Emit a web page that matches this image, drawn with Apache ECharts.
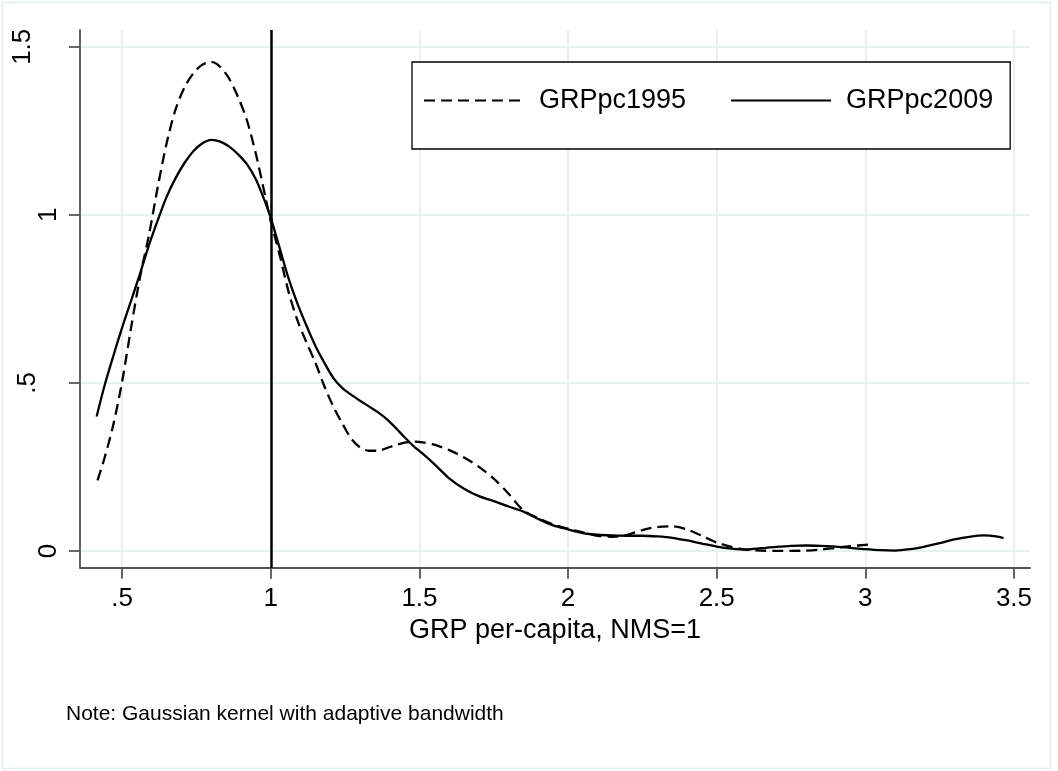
<!DOCTYPE html>
<html>
<head>
<meta charset="utf-8">
<script src="https://cdn.jsdelivr.net/npm/echarts@6/dist/echarts.min.js"></script>
<style>
  html, body { margin: 0; padding: 0; background: #fff; }
  #chart { width: 1058px; height: 771px; }
</style>
</head>
<body>
<div id="chart"></div>
<script>
// ---- data ----
const x1995 = [0.417,0.44,0.47,0.50,0.53,0.56,0.59,0.62,0.65,0.68,0.71,0.74,0.77,0.80,0.83,0.86,0.89,0.92,0.95,0.98,1.00,1.03,1.06,1.09,1.12,1.15,1.18,1.21,1.24,1.27,1.30,1.33,1.36,1.39,1.42,1.45,1.48,1.51,1.55,1.60,1.65,1.70,1.75,1.80,1.85,1.90,1.95,2.00,2.05,2.10,2.15,2.20,2.25,2.30,2.35,2.40,2.45,2.50,2.55,2.60,2.65,2.70,2.75,2.80,2.85,2.90,2.95,3.00,3.02];
const y1995 = [0.21,0.275,0.375,0.505,0.665,0.815,0.94,1.085,1.215,1.315,1.38,1.422,1.447,1.455,1.44,1.405,1.35,1.28,1.18,1.06,0.98,0.88,0.77,0.685,0.62,0.56,0.49,0.43,0.38,0.335,0.308,0.298,0.298,0.306,0.315,0.322,0.325,0.323,0.316,0.30,0.278,0.25,0.215,0.17,0.12,0.097,0.079,0.066,0.055,0.045,0.042,0.048,0.062,0.071,0.073,0.064,0.045,0.025,0.012,0.004,0.001,0.0,0.0,0.001,0.004,0.009,0.014,0.018,0.019];

const x2009 = [0.414,0.44,0.47,0.50,0.53,0.56,0.59,0.62,0.65,0.68,0.71,0.74,0.77,0.80,0.83,0.86,0.89,0.92,0.95,0.98,1.00,1.03,1.06,1.09,1.12,1.15,1.18,1.21,1.24,1.27,1.30,1.33,1.36,1.39,1.42,1.45,1.48,1.51,1.55,1.60,1.65,1.70,1.75,1.80,1.85,1.90,1.95,2.00,2.05,2.10,2.15,2.20,2.25,2.30,2.35,2.40,2.45,2.50,2.55,2.60,2.65,2.70,2.75,2.80,2.85,2.90,2.95,3.00,3.05,3.10,3.15,3.20,3.25,3.30,3.35,3.40,3.44,3.465];
const y2009 = [0.40,0.49,0.58,0.665,0.745,0.825,0.91,0.985,1.055,1.11,1.155,1.19,1.213,1.223,1.218,1.203,1.18,1.15,1.105,1.04,0.99,0.90,0.81,0.735,0.67,0.61,0.56,0.515,0.485,0.465,0.447,0.43,0.413,0.392,0.366,0.338,0.312,0.29,0.258,0.216,0.185,0.163,0.148,0.132,0.117,0.095,0.076,0.064,0.053,0.048,0.046,0.045,0.045,0.043,0.039,0.031,0.022,0.013,0.007,0.004,0.008,0.012,0.015,0.016,0.015,0.013,0.009,0.005,0.002,0.001,0.005,0.013,0.023,0.034,0.042,0.046,0.043,0.038];

const xTicks = [0.5, 1, 1.5, 2, 2.5, 3, 3.5];
const xTickLabels = ['.5', '1', '1.5', '2', '2.5', '3', '3.5'];
const yTicks = [0, 0.5, 1, 1.5];
const yTickLabels = ['0', '.5', '1', '1.5'];
const xRange = [0.358, 3.554];
const yRange = [-0.05, 1.55];
const refLineX = 1;

const seriesNames = ['GRPpc1995', 'GRPpc2009'];
const xTitle = 'GRP per-capita, NMS=1';
const noteText = 'Note: Gaussian kernel with adaptive bandwidth';

// ---- build ----
const FONT = '"Liberation Sans", Arial, Helvetica, sans-serif';
const pairs = (xs, ys) => xs.map((x, i) => [x, ys[i]]);
const xLabelOf = v => xTickLabels[xTicks.indexOf(v)];
const yLabelOf = v => {
  const s = yTickLabels[yTicks.indexOf(v)];
  return '{l' + s.length + '|' + s + '}';
};
const axisColor = '#555555';
const gridColor = '#e8f0f2';

const chart = echarts.init(document.getElementById('chart'), null, { renderer: 'canvas' });
chart.setOption({
  animation: false,
  backgroundColor: '#ffffff',
  textStyle: { fontFamily: FONT },
  grid: { left: 80, top: 30, width: 950, height: 537.7, containLabel: false },
  legend: {
    data: seriesNames,
    left: 412, top: 62,
    orient: 'horizontal',
    padding: [25, 17, 35, 11],
    itemWidth: 100, itemHeight: 20, itemGap: 44,
    borderColor: '#000', borderWidth: 1.3,
    backgroundColor: '#fff',
    selectedMode: false,
    itemStyle: { color: 'rgba(0,0,0,0)', borderWidth: 0, opacity: 0 },
    textStyle: { fontSize: 27, color: '#000', fontFamily: FONT, padding: [0, 0, 0, 10] }
  },
  xAxis: {
    type: 'value',
    min: xRange[0], max: xRange[1],
    name: xTitle,
    nameLocation: 'middle',
    nameGap: 45,
    nameTextStyle: { fontSize: 27, color: '#000', fontFamily: FONT, lineHeight: 27 },
    axisLine: { show: true, onZero: false, lineStyle: { color: axisColor, width: 1.8 } },
    axisTick: { show: true, customValues: xTicks, length: 11, lineStyle: { color: axisColor, width: 1.8 } },
    axisLabel: { customValues: xTicks, formatter: xLabelOf, fontSize: 26, color: '#000', margin: 18, lineHeight: 26, fontFamily: FONT },
    splitLine: { show: true, lineStyle: { color: gridColor, width: 2 } }
  },
  yAxis: {
    type: 'value',
    min: yRange[0], max: yRange[1],
    axisLine: { show: true, onZero: false, lineStyle: { color: axisColor, width: 1.8 } },
    axisTick: { show: true, customValues: yTicks, length: 11, lineStyle: { color: axisColor, width: 1.8 } },
    axisLabel: {
      customValues: yTicks, formatter: yLabelOf, rotate: 90, fontSize: 26, color: '#000', margin: 18, fontFamily: FONT,
      rich: {
        l1: { lineHeight: 26, fontSize: 26, fontFamily: FONT },
        l2: { lineHeight: 68, fontSize: 26, fontFamily: FONT },
        l3: { lineHeight: 78, fontSize: 26, fontFamily: FONT }
      }
    },
    splitLine: { show: true, lineStyle: { color: gridColor, width: 2 } }
  },
  series: [
    {
      name: seriesNames[0],
      type: 'line',
      data: pairs(x1995, y1995),
      symbol: 'none', showSymbol: false,
      smooth: 0.3,
      color: '#000',
      lineStyle: { color: '#000', width: 2.3, type: [11, 6] },
      emphasis: { disabled: true },
      z: 3
    },
    {
      name: seriesNames[1],
      type: 'line',
      data: pairs(x2009, y2009),
      symbol: 'none', showSymbol: false,
      smooth: 0.3,
      color: '#000',
      lineStyle: { color: '#000', width: 2.3, type: 'solid' },
      emphasis: { disabled: true },
      z: 3,
      markLine: {
        silent: true,
        symbol: ['none', 'none'],
        label: { show: false },
        lineStyle: { color: '#000', width: 2.5, type: 'solid' },
        emphasis: { disabled: true },
        data: [{ xAxis: refLineX }]
      }
    }
  ],
  graphic: [
    {
      type: 'rect', silent: true, z: -10,
      shape: { x: 2.5, y: 2.5, width: 1048, height: 766 },
      style: { fill: 'none', stroke: '#e4eef0', lineWidth: 1.5 }
    },
    {
      type: 'text', left: 66, top: 704, silent: true,
      style: { text: noteText, font: '21px ' + FONT, fill: '#000' }
    }
  ]
});
</script>
</body>
</html>
